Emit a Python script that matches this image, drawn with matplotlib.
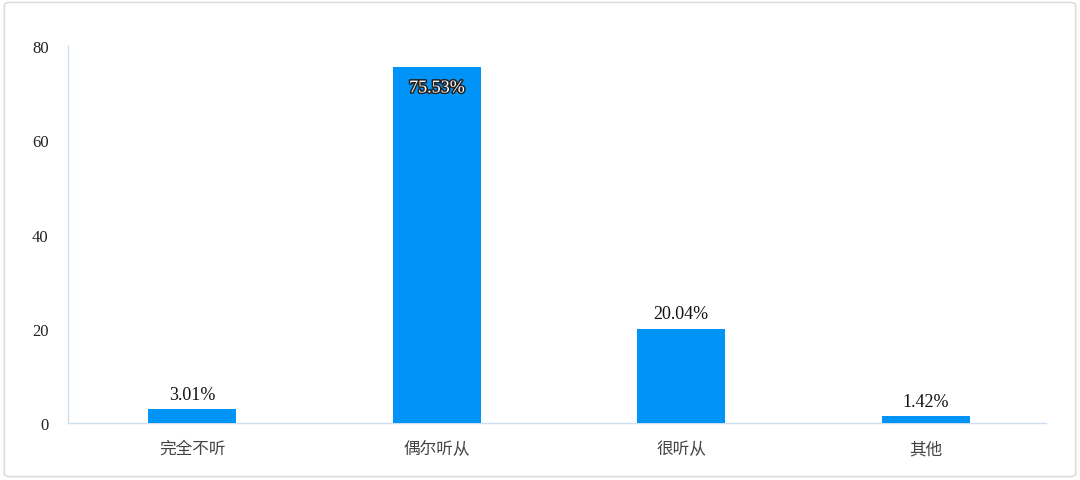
import matplotlib
matplotlib.use('Agg')
import matplotlib.pyplot as plt
import matplotlib.patheffects as pe
from matplotlib.patches import FancyBboxPatch

plt.rcParams['font.family'] = ['Liberation Serif', 'Noto Sans CJK SC', 'DejaVu Sans']

categories = ['完全不听', '偶尔听从', '很听从', '其他']
values = [3.01, 75.53, 20.04, 1.42]
labels = ['3.01%', '75.53%', '20.04%', '1.42%']
yticks = [0, 20, 40, 60, 80]

fig = plt.figure(figsize=(10.8, 4.81), dpi=100)

# light rounded frame round the whole chart
frame = FancyBboxPatch((0.004, 0.007), 0.992, 0.986,
                       boxstyle='round,pad=0,rounding_size=0.006',
                       transform=fig.transFigure, facecolor='white',
                       edgecolor='#dcdcdc', linewidth=1.2, zorder=-10)
fig.patches.append(frame)

ax = fig.add_axes([0.063, 0.1185, 0.9055, 0.7835])
ax.patch.set_alpha(0)

x = range(len(categories))
ax.bar(x, values, width=0.36, color='#0094F8', zorder=3)

ax.set_xlim(-0.508, len(categories) - 0.508)
ax.set_ylim(0, 80)
ax.set_yticks(yticks)
ax.set_yticklabels([str(t) for t in yticks], fontsize=12, color='#222222')
ax.set_xticks(list(x))
ax.set_xticklabels(categories, fontsize=12, color='#444444')
ax.tick_params(axis='both', length=0)
ax.tick_params(axis='y', pad=14)
ax.tick_params(axis='x', pad=13)

for s in ['top', 'right']:
    ax.spines[s].set_visible(False)
for s in ['left', 'bottom']:
    ax.spines[s].set_color('#cfdff2')
    ax.spines[s].set_linewidth(1.0)

for i, (v, lab) in enumerate(zip(values, labels)):
    if v > 50:
        t = ax.text(i, v - 2.6, lab, ha='center', va='top', fontsize=13,
                    color='white')
        t.set_path_effects([pe.withStroke(linewidth=2.2, foreground='#222222')])
    else:
        ax.text(i, v + 1.3, lab, ha='center', va='bottom', fontsize=13,
                color='#111111')

fig.savefig('out.png', dpi=100)
